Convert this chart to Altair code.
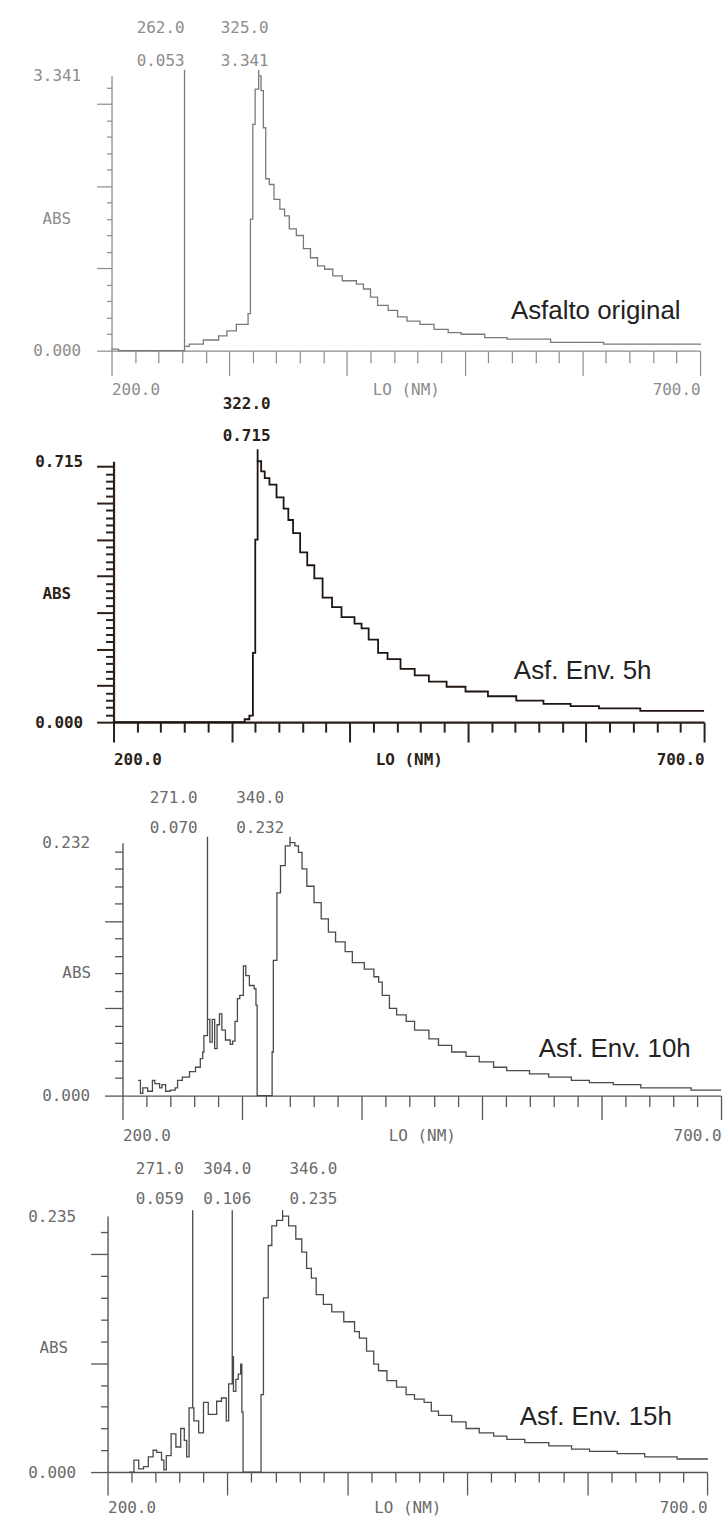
import altair as alt
import pandas as pd

MONO = "DejaVu Sans Mono"
SANS = "Liberation Sans"

# ---------------- data ----------------
x_major = [200, 300, 400, 500, 600, 700]
x_minor = [220, 240, 260, 280, 320, 340, 360, 380, 420, 440, 460, 480,
           520, 540, 560, 580, 620, 640, 660, 680]

# Panel 1 - Asfalto original
p1_nm = [200, 206, 262, 266, 278, 291, 298, 306, 316, 318, 320, 322, 325, 327, 329, 331, 334, 338, 343, 347,
         351, 357, 363, 369, 375, 381, 388, 396, 408, 414, 420, 426, 435, 443, 451, 462, 474, 486, 497, 517,
         536, 573, 618, 700]
p1_abs = [0.02, 0.0, 0.053, 0.08, 0.13, 0.18, 0.24, 0.32, 0.45, 1.60, 2.75, 3.18, 3.341, 3.16, 2.71, 2.09, 2.02, 1.84, 1.72, 1.64,
          1.48, 1.40, 1.24, 1.13, 1.03, 0.99, 0.91, 0.85, 0.81, 0.75, 0.65, 0.55, 0.49, 0.41, 0.36, 0.32, 0.26, 0.22, 0.20, 0.16,
          0.14, 0.10, 0.08, 0.07]
p1_peak_nm = [262.0, 325.0]
p1_peak_abs = [0.053, 3.341]
p1_ymax = 3.341
p1_ymajor = [0, 1, 2, 3]
p1_yminor = [0.2, 0.4, 0.6, 0.8, 1.2, 1.4, 1.6, 1.8, 2.2, 2.4, 2.6, 2.8, 3.2]
p1_name = "Asfalto original"

# Panel 2 - Asf. Env. 5h
p2_nm = [200, 311, 315, 318, 320, 322, 325, 328, 332, 338, 344, 348, 352, 358, 364, 370, 377, 385, 393, 404,
         410, 416, 424, 432, 443, 455, 467, 482, 498, 517, 541, 564, 587, 611, 646, 700]
p2_abs = [0.0, 0.008, 0.018, 0.19, 0.50, 0.715, 0.687, 0.669, 0.651, 0.616, 0.585, 0.554, 0.518, 0.465, 0.43, 0.394, 0.341, 0.315, 0.288, 0.27,
          0.257, 0.226, 0.19, 0.173, 0.146, 0.128, 0.111, 0.097, 0.084, 0.071, 0.059, 0.05, 0.044, 0.038, 0.031, 0.031]
p2_peak_nm = [322.0]
p2_peak_abs = [0.715]
p2_ymax = 0.715
p2_ymajor = [0, 0.1, 0.2, 0.3, 0.4, 0.5, 0.6, 0.7]
p2_yminor = [0.02, 0.04, 0.06, 0.08, 0.12, 0.14, 0.16, 0.18, 0.22, 0.24, 0.26, 0.28, 0.32, 0.34, 0.36, 0.38,
             0.42, 0.44, 0.46, 0.48, 0.52, 0.54, 0.56, 0.58, 0.62, 0.64, 0.66, 0.68]
p2_name = "Asf. Env. 5h"

# Panel 3 - Asf. Env. 10h
p3_nm = [213, 215, 217, 221, 225, 227, 231, 233, 236, 240, 244, 246, 250, 256, 261, 265, 267, 268, 271, 273,
         275, 277, 279, 281, 283, 286, 290, 292, 294, 296, 298, 301, 303, 306, 310, 311.5, 312.5, 325, 326, 329,
         332, 336, 340, 344, 347, 350, 354, 360, 366, 372, 378, 386, 392, 402, 410, 414, 417, 423, 429, 437,
         444, 456, 464, 475, 487, 498, 510, 521, 540, 556, 575, 590, 610, 633, 675, 700]
p3_abs = [0.014, 0.002, 0.007, 0.004, 0.014, 0.011, 0.007, 0.010, 0.004, 0.005, 0.007, 0.014, 0.017, 0.022, 0.026, 0.034, 0.040, 0.055, 0.070, 0.049,
          0.070, 0.043, 0.065, 0.075, 0.060, 0.051, 0.047, 0.050, 0.068, 0.089, 0.092, 0.119, 0.110, 0.101, 0.098, 0.083, 0.0, 0.040, 0.124, 0.186,
          0.211, 0.229, 0.232, 0.229, 0.223, 0.208, 0.192, 0.177, 0.162, 0.150, 0.141, 0.132, 0.122, 0.116, 0.109, 0.104, 0.092, 0.080, 0.074, 0.068,
          0.060, 0.052, 0.046, 0.040, 0.036, 0.031, 0.026, 0.023, 0.020, 0.017, 0.014, 0.012, 0.010, 0.007, 0.005, 0.005]
p3_peak_nm = [271.0, 340.0]
p3_peak_abs = [0.070, 0.232]
p3_ymax = 0.232
p3_ymajor = [0, 0.08, 0.16]
p3_yminor = [0.016, 0.032, 0.048, 0.064, 0.096, 0.112, 0.128, 0.144, 0.176, 0.192, 0.208, 0.224]
p3_name = "Asf. Env. 10h"

# Panel 4 - Asf. Env. 15h
p4_nm = [218, 222, 226, 230, 234, 238, 241, 245, 247, 249, 253, 257, 261, 264, 266, 268, 271, 272, 276, 280,
         284, 288, 291, 295, 299, 301, 304, 305, 307, 309, 311, 312, 313, 328, 330, 334, 337, 341, 346, 351,
         357, 362, 366, 370, 374, 380, 387, 397, 406, 410, 416, 422, 426, 433, 441, 449, 456, 464, 470, 476,
         487, 499, 510, 522, 533, 548, 568, 587, 602, 625, 648, 675, 700]
p4_abs = [0.0, 0.011, 0.003, 0.005, 0.014, 0.020, 0.018, 0.011, 0.002, 0.015, 0.035, 0.023, 0.040, 0.029, 0.014, 0.059, 0.059, 0.047, 0.036, 0.064,
          0.053, 0.053, 0.065, 0.068, 0.047, 0.081, 0.106, 0.074, 0.085, 0.090, 0.099, 0.055, 0.0, 0.071, 0.160, 0.208, 0.226, 0.231, 0.235, 0.226,
          0.214, 0.202, 0.187, 0.178, 0.163, 0.154, 0.147, 0.138, 0.129, 0.123, 0.111, 0.099, 0.093, 0.084, 0.078, 0.071, 0.067, 0.064, 0.056, 0.052,
          0.046, 0.040, 0.036, 0.033, 0.030, 0.027, 0.024, 0.021, 0.019, 0.017, 0.014, 0.012, 0.011]
p4_peak_nm = [271.0, 304.0, 346.0]
p4_peak_abs = [0.059, 0.106, 0.235]
p4_ymax = 0.235
p4_ymajor = [0, 0.1, 0.2]
p4_yminor = [0.02, 0.04, 0.06, 0.08, 0.12, 0.14, 0.16, 0.18, 0.22]
p4_name = "Asf. Env. 15h"

# ---------------- styles ----------------
W = 616
S1 = dict(H=276, top=0, xr=[4, 595], tc="#8c8c8c", ac="#8c8c8c", lc="#7a7a7a", lw=1.3, tw=1.2, dw=1.3, fw="normal",
          xmaj=25, xmin=12, xlab=39, ymaj=15, ymin=5, ylp=31, ttx=-41, tty=143,
          row1=-48, row2=-15, rtop=-6, dx=[-24, -14], ax=405, ay=244)
S2 = dict(H=262, top=0, xr=[6, 599], tc="#2b1f18", ac="#2b1f18", lc="#1e1410", lw=1.8, tw=2, dw=2.2, fw="bold",
          xmaj=20, xmin=10, xlab=38, ymaj=17, ymin=8, ylp=31, ttx=-43, tty=133,
          row1=-57, row2=-25, rtop=-12, dx=[-11], ax=408, ay=219)
S3 = dict(H=264, top=10, xr=[15, 616], tc="#6a6a6a", ac="#555555", lc="#4a4a4a", lw=1.3, tw=1.3, dw=1.4, fw="normal",
          xmaj=24, xmin=11, xlab=40, ymaj=18, ymin=8, ylp=33, ttx=-32, tty=140,
          row1=-35, row2=-5, rtop=4, dx=[-34, -30], ax=433, ay=225)
S4 = dict(H=267, top=10, xr=[0, 602], tc="#6a6a6a", ac="#555555", lc="#4a4a4a", lw=1.3, tw=1.3, dw=1.4, fw="normal",
          xmaj=23, xmin=10, xlab=36, ymaj=17, ymin=7, ylp=32, ttx=-40, tty=142,
          row1=-37, row2=-7, rtop=4, dx=[-33, -5, 31], ax=414, ay=220)


def panel(nm, ab, ymax, ymaj, ymin, pk_nm, pk_abs, name, st):
    H = st["H"]
    xs = alt.Scale(domain=[200, 700], range=st["xr"], nice=False, zero=False)
    ys = alt.Scale(domain=[0, ymax], range=[H, st["top"]], nice=False, zero=False)
    df = pd.DataFrame({"nm": nm, "abs": ab})
    base = dict(grid=False, tickColor=st["ac"], domainColor=st["ac"], tickWidth=st["tw"],
                domainWidth=st["dw"], labelFont=MONO, labelFontSize=16, labelColor=st["tc"],
                labelFontWeight=st["fw"], titleFont=MONO, titleFontSize=16, titleColor=st["tc"],
                titleFontWeight=st["fw"])
    x_main = alt.Axis(orient="bottom", values=x_major, tickSize=st["xmaj"],
                      labelExpr="datum.value == 200 || datum.value == 700 ? format(datum.value, '.1f') : ''",
                      labelFlush=True, labelOverlap=False, labelBaseline="middle",
                      labelPadding=st["xlab"] - st["xmaj"], title="LO (NM)", titleY=st["xlab"],
                      titleBaseline="middle", **base)
    x_min = alt.Axis(orient="bottom", values=x_minor, tickSize=st["xmin"], labels=False,
                     domain=False, title=None, **base)
    y_lab = alt.Axis(orient="left", values=[0, ymax], ticks=False, format=".3f", labelPadding=st["ylp"],
                     labelOverlap=False, labelFlush=False, offset=-st["xr"][0],
                     title="ABS", titleAngle=0, titleAlign="right", titleBaseline="middle",
                     titleX=st["ttx"], titleY=st["tty"], **base)
    y_maj = alt.Axis(orient="left", values=ymaj, tickSize=st["ymaj"], labels=False, domain=False,
                     title=None, offset=-st["xr"][0], **base)
    y_min = alt.Axis(orient="left", values=ymin, tickSize=st["ymin"], labels=False, domain=False,
                     title=None, offset=-st["xr"][0], **base)

    line = alt.Chart(df).mark_line(interpolate="step-after", color=st["lc"], strokeWidth=st["lw"]).encode(
        x=alt.X("nm:Q", scale=xs, axis=x_main), y=alt.Y("abs:Q", scale=ys, axis=y_lab))
    ax2 = alt.Chart(df).mark_line(opacity=0).encode(
        x=alt.X("nm:Q", scale=xs, axis=x_min), y=alt.Y("abs:Q", scale=ys, axis=y_maj))
    ax3 = alt.Chart(df).mark_line(opacity=0).encode(
        x=alt.X("nm:Q", scale=xs, axis=None), y=alt.Y("abs:Q", scale=ys, axis=y_min))

    pk = pd.DataFrame({"nm": pk_nm, "abs": pk_abs})
    rules = alt.Chart(pk).mark_rule(color=st["lc"], strokeWidth=st["lw"]).encode(
        x=alt.X("nm:Q", scale=xs, axis=None), y=alt.Y("abs:Q", scale=ys, axis=None),
        y2=alt.value(st["rtop"]))
    layers = [line, ax2, ax3, rules]
    for n, v, dx in zip(pk_nm, pk_abs, st["dx"]):
        d = pd.DataFrame({"nm": [n], "w": [f"{n:.1f}"], "v": [f"{v:.3f}"]})
        for field, row in (("w", st["row1"]), ("v", st["row2"])):
            layers.append(alt.Chart(d).mark_text(dx=dx, font=MONO, fontSize=16, color=st["tc"],
                                                 fontWeight=st["fw"], baseline="middle", align="center").encode(
                x=alt.X("nm:Q", scale=xs, axis=None), y=alt.value(row), text=f"{field}:N"))
    ann = alt.Chart(pd.DataFrame({"t": [name]})).mark_text(
        align="left", baseline="alphabetic", font=SANS, fontSize=26, color="#222222").encode(
        x=alt.value(st["ax"]), y=alt.value(st["ay"]), text="t:N")
    layers.append(ann)
    return alt.layer(*layers).resolve_axis(x="independent", y="independent").properties(width=W, height=H)


c1 = panel(p1_nm, p1_abs, p1_ymax, p1_ymajor, p1_yminor, p1_peak_nm, p1_peak_abs, p1_name, S1)
c2 = panel(p2_nm, p2_abs, p2_ymax, p2_ymajor, p2_yminor, p2_peak_nm, p2_peak_abs, p2_name, S2)
c3 = panel(p3_nm, p3_abs, p3_ymax, p3_ymajor, p3_yminor, p3_peak_nm, p3_peak_abs, p3_name, S3)
c4 = panel(p4_nm, p4_abs, p4_ymax, p4_ymajor, p4_yminor, p4_peak_nm, p4_peak_abs, p4_name, S4)

chart = alt.vconcat(c1, c2, c3, c4, spacing=111, bounds="flush").properties(
    padding={"left": 27, "top": 17, "right": 0, "bottom": 0}, background="white"
).configure_view(stroke=None)

chart.save("out.html", embed_options={"renderer": "svg", "actions": False})
